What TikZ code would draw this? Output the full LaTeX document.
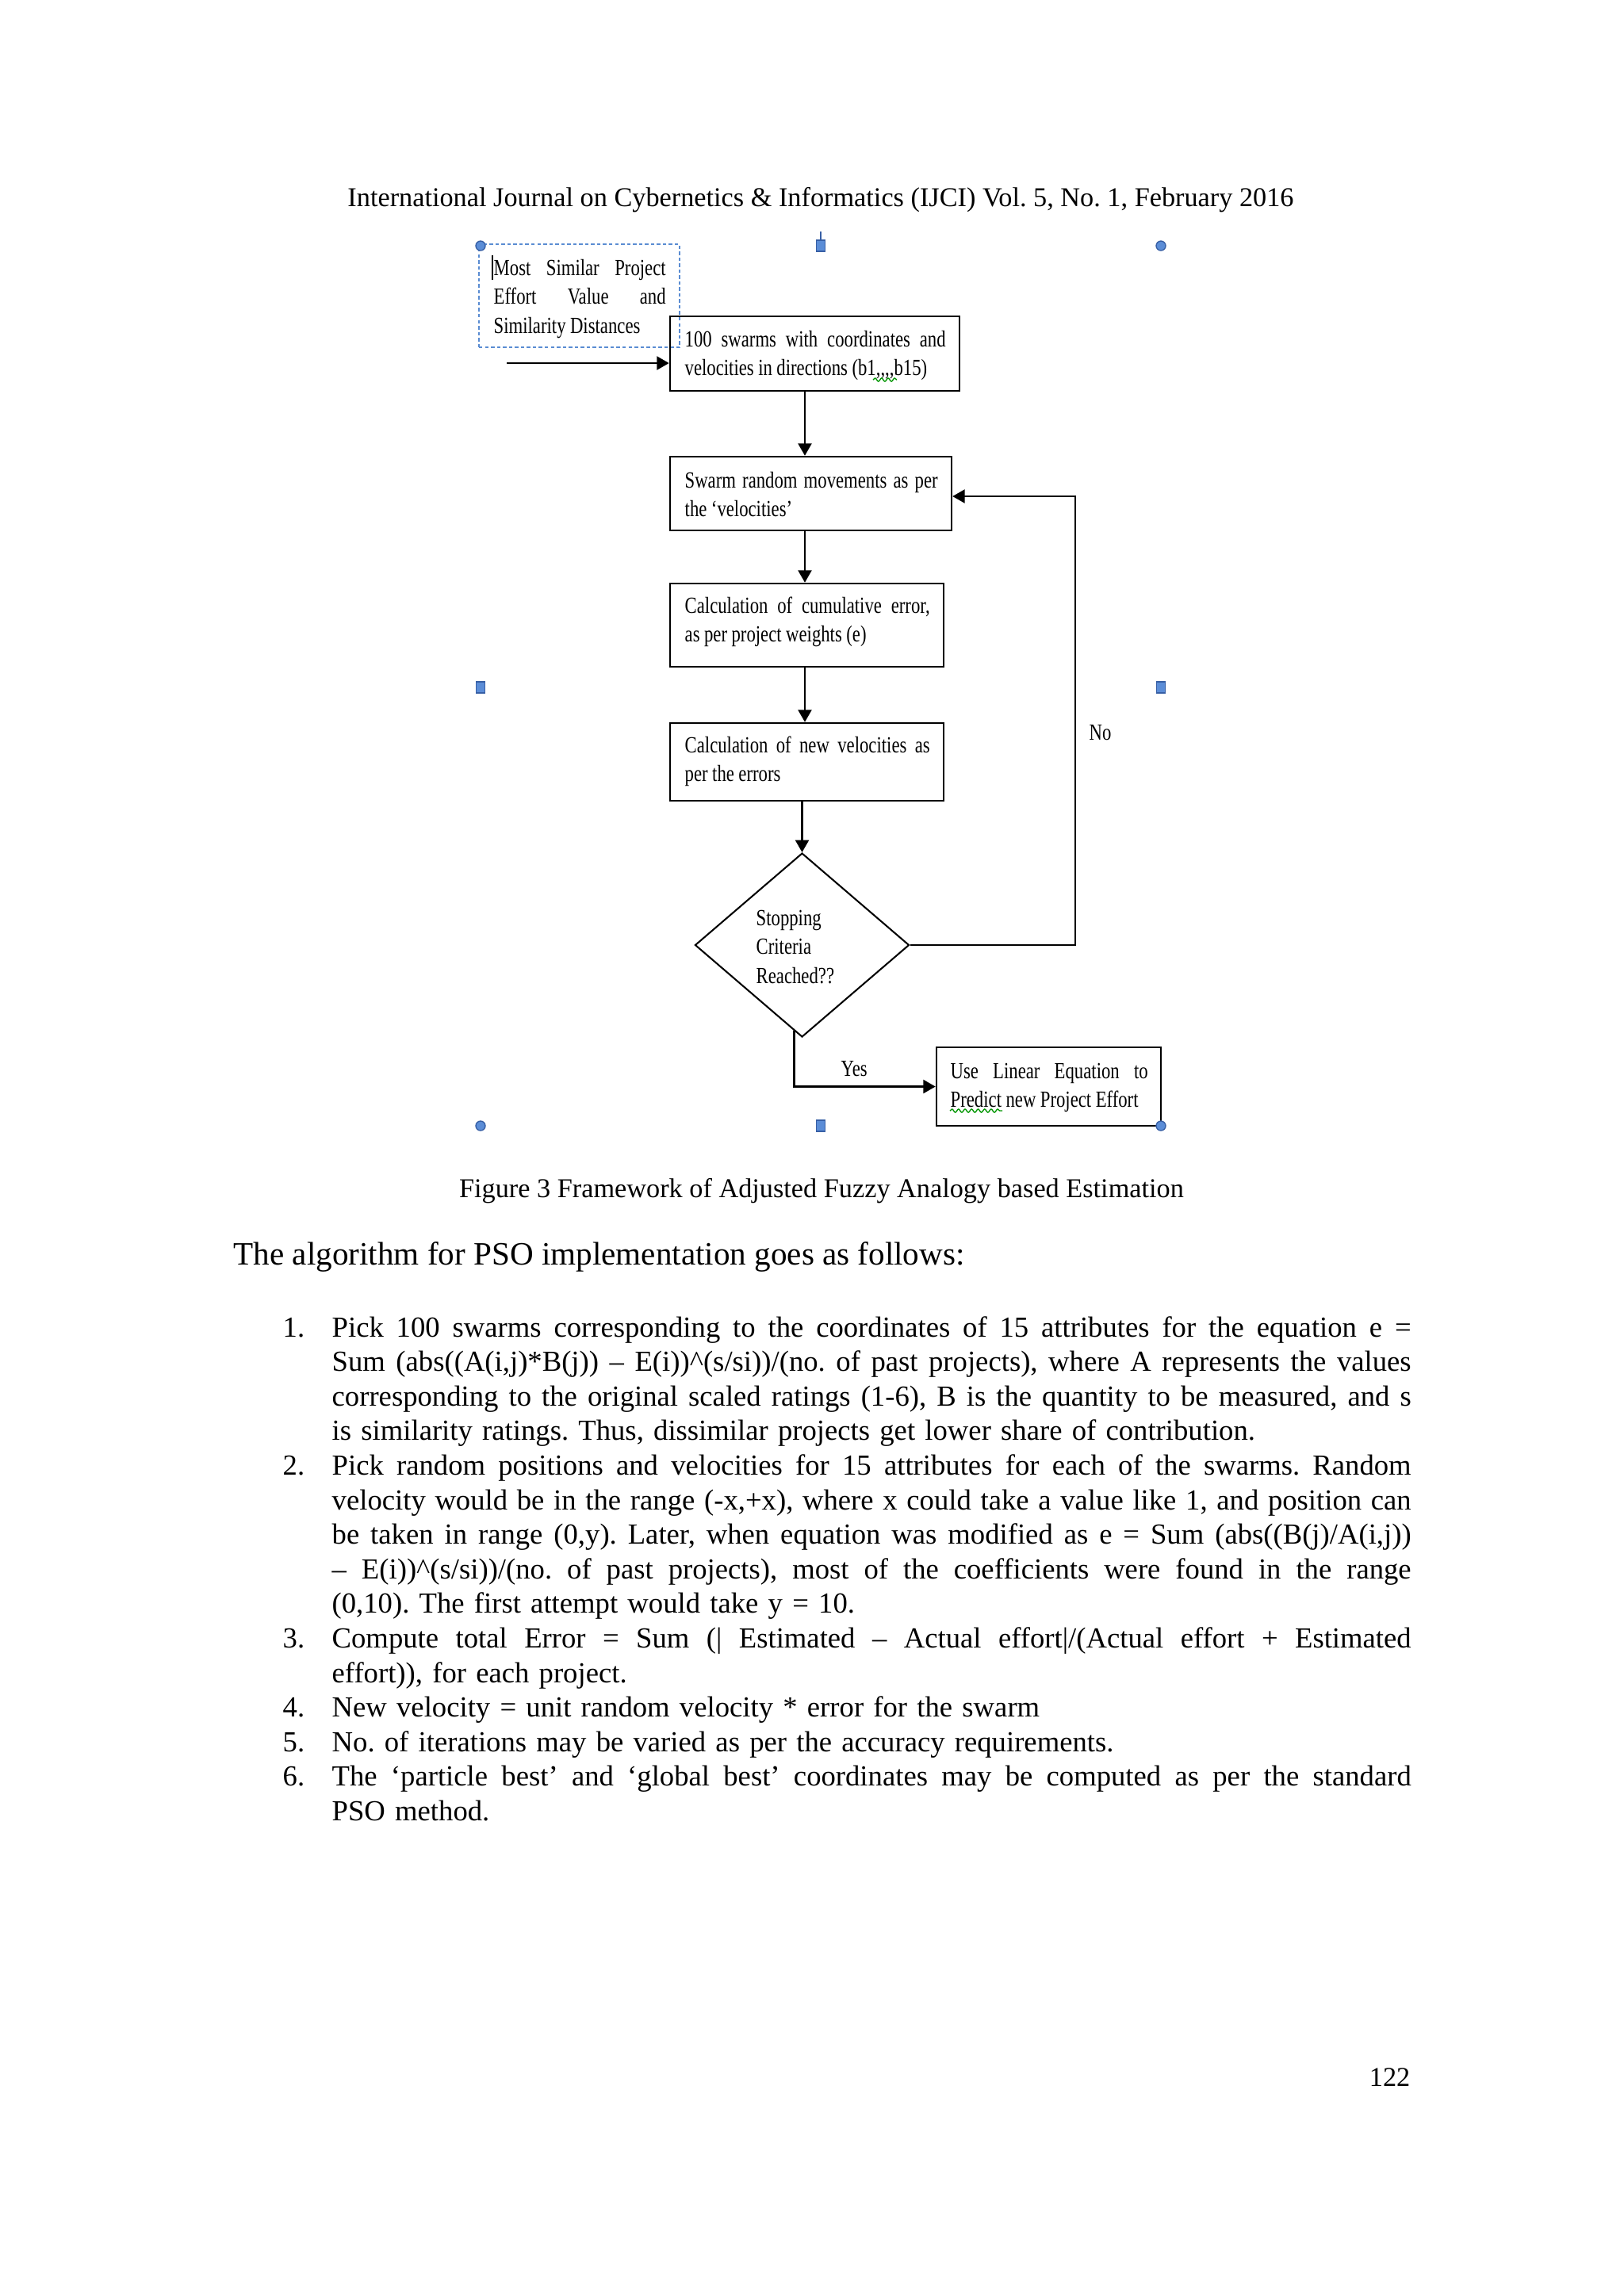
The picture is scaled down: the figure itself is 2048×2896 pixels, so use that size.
\documentclass[tikz,border=0pt]{standalone}
\usepackage{fontspec}
\setmainfont{Liberation Serif}
\newfontfamily\diafont[FakeStretch=0.78]{Liberation Serif}
\usetikzlibrary{shapes.geometric,arrows.meta,decorations.pathmorphing}
\newdimen\pxd \pxd=0.0102539cm
\newcommand{\jline}[2]{\leavevmode\hbox to #1\pxd{\spaceskip=\fontdimen2\font plus 1fil minus 0.35\fontdimen2\font\relax #2}}
\newcommand{\djline}[2]{\leavevmode\hbox to #1\pxd{\spaceskip=1.6pt plus 1fil minus 0.3pt\relax #2}}
\newcommand{\diasp}{\spaceskip=1.6pt plus 1pt minus 0.3pt\relax}
\definecolor{hfill}{RGB}{91,141,215}
\definecolor{hdraw}{RGB}{55,95,165}
\definecolor{dashblue}{RGB}{90,140,210}
\definecolor{wavegreen}{RGB}{0,150,0}
\frenchspacing
\begin{document}
\begin{tikzpicture}[x=0.0102539cm,y=-0.0102539cm,
  box/.style={draw, line width=0.75pt, rectangle, inner sep=0pt},
  dbox/.style={draw=dashblue, line width=0.5pt, dash pattern=on 1.3pt off 0.9pt, rectangle, inner sep=0pt},
  dia/.style={draw, line width=0.6pt, diamond, inner sep=0pt},
  txt/.style={anchor=base west, inner sep=0pt, font=\diafont\fontsize{8.5}{10.7}\selectfont, align=left},
  lbl/.style={anchor=base west, inner sep=0pt, font=\diafont\fontsize{8.5}{10.7}\selectfont},
  arr/.style={-{Triangle[length=4.5pt,width=5pt]}, line width=0.6pt},
  hcirc/.style={circle, fill=hfill, draw=hdraw, line width=0.4pt, minimum size=0.123cm, inner sep=0pt},
  hsq/.style={rectangle, fill=hfill, draw=hdraw, line width=0.4pt, minimum width=0.113cm, minimum height=0.144cm, inner sep=0pt},
  body/.style={anchor=base west, inner sep=0pt, font=\fontsize{10.7}{12.72}\selectfont, text width=14.4cm, align=left},
  num/.style={anchor=base west, inner sep=0pt, font=\fontsize{10.7}{12.72}\selectfont},
  wave/.style={draw=wavegreen, line width=0.4pt, decorate, decoration={snake, amplitude=0.6pt, segment length=2.4pt}}
]
\useasboundingbox[fill=white] (0,0) rectangle (2048,2896);

% header
\node[anchor=base, inner sep=0pt, font=\fontsize{10}{12}\selectfont] (hdr) at (1035,260)
  {International Journal on Cybernetics \& Informatics (IJCI) Vol. 5, No. 1, February 2016};

% boxes
\node[dbox, minimum width=2.594cm, minimum height=1.333cm] (src) at (730.5,373) {};
\node[box, minimum width=3.743cm, minimum height=0.964cm] (b1) at (1027.5,446) {};
\node[box, minimum width=3.640cm, minimum height=0.954cm] (b2) at (1022.5,622.5) {};
\node[box, minimum width=3.538cm, minimum height=1.077cm] (b3) at (1017.5,788.5) {};
\node[box, minimum width=3.538cm, minimum height=1.005cm] (b4) at (1017.5,961) {};
\node[dia, minimum width=2.769cm, minimum height=2.379cm] (d) at (1011.5,1192) {};
\node[box, minimum width=2.902cm, minimum height=1.015cm] (b5) at (1322.5,1370.5) {};

% texts
\node[txt, text width=2.7cm] (t0) at (622,347)
  {\diasp\djline{217}{Most Similar Project}\\\djline{217}{Effort Value and}\\Similarity Distances};
\node[txt, text width=3.9cm] (t1) at (863,437)
  {\diasp\djline{329}{100 swarms with coordinates and}\\velocities in directions (b1,,,,b15)};
\node[txt, text width=3.9cm] (t2) at (863,615)
  {\diasp\djline{319}{Swarm random movements as per}\\the ‘velocities’};
\node[txt, text width=3.9cm] (t3) at (863,773)
  {\diasp\djline{309}{Calculation of cumulative error,}\\as per project weights (e)};
\node[txt, text width=3.9cm] (t4) at (863,949)
  {\diasp\djline{309}{Calculation of new velocities as}\\per the errors};
\node[txt, text width=3.3cm] (t5) at (1198,1360)
  {\diasp\djline{249}{Use Linear Equation to}\\Predict new Project Effort};
\node[txt, text width=1.7cm] (td) at (953,1167) {Stopping\\Criteria\\Reached??};
\node[lbl] (no) at (1373,933) {No};
\node[lbl] (yes) at (1060,1357) {Yes};

% text cursor and proofing marks
\draw[line width=0.7pt] (621,322) -- (621,353);
\draw[wave] (1101,479) -- (1131,479);
\draw[wave] (1198,1401) -- (1264,1401);

% connectors
\coordinate (in) at (639,458);
\coordinate (col) at (1015,0);
\coordinate (loopx) at (1356,626);
\draw[arr] (in) -- (in -| b1.west);
\draw[arr] (b1.south -| col) -- (b2.north -| col);
\draw[arr] (b2.south -| col) -- (b3.north -| col);
\draw[arr] (b3.south -| col) -- (b4.north -| col);
\draw[arr] (b4.south -| d.north) -- (d.north);
\draw[arr] (d.east) -| (loopx) -- (b2.east |- loopx);
\draw[arr] (d.south) ++(-10,-9) |- (b5.west);

% selection handles
\draw[hdraw, line width=0.6pt] (1035,292) -- (1035,303);
\node[hcirc] (h1) at (606,310) {};
\node[hsq] (h2) at (1035,310) {};
\node[hcirc] (h3) at (1464,310) {};
\node[hsq] (h4) at (606,867) {};
\node[hsq] (h5) at (1464,867) {};
\node[hcirc] (h6) at (606,1420) {};
\node[hsq] (h7) at (1035,1420) {};
\node[hcirc] (h8) at (1464,1420) {};

% caption and body
\node[anchor=base, inner sep=0pt, font=\fontsize{10}{12}\selectfont] (cap) at (1036,1510)
  {Figure 3 Framework of Adjusted Fuzzy Analogy based Estimation};
\node[anchor=base west, inner sep=0pt, font=\fontsize{12}{14}\selectfont] (intro) at (294,1595)
  {The algorithm for PSO implementation goes as follows:};

\node[num] (n1) at (356,1686) {1.};
\node[body] (i1) at (418,1686)
  {\jline{1361}{Pick 100 swarms corresponding to the coordinates of 15 attributes for the equation e =}\\
   \jline{1361}{Sum (abs((A(i,j)*B(j)) – E(i))\textasciicircum(s/si))/(no. of past projects), where A represents the values}\\
   \jline{1361}{corresponding to the original scaled ratings (1-6), B is the quantity to be measured, and s}\\
   is similarity ratings. Thus, dissimilar projects get lower share of contribution.};
\node[num] (n2) at (356,1860.4) {2.};
\node[body] (i2) at (418,1860.4)
  {\jline{1361}{Pick random positions and velocities for 15 attributes for each of the swarms. Random}\\
   \jline{1361}{velocity would be in the range (-x,+x), where x could take a value like 1, and position can}\\
   \jline{1361}{be taken in range (0,y). Later, when equation was modified as e = Sum (abs((B(j)/A(i,j))}\\
   \jline{1361}{– E(i))\textasciicircum(s/si))/(no. of past projects), most of the coefficients were found in the range}\\
   (0,10). The first attempt would take y = 10.};
\node[num] (n3) at (356,2078.4) {3.};
\node[body] (i3) at (418,2078.4)
  {\jline{1361}{Compute total Error = Sum (| Estimated – Actual effort|/(Actual effort + Estimated}\\
   effort)), for each project.};
\node[num] (n4) at (356,2165.6) {4.};
\node[body] (i4) at (418,2165.6) {New velocity = unit random velocity * error for the swarm};
\node[num] (n5) at (356,2209.2) {5.};
\node[body] (i5) at (418,2209.2) {No. of iterations may be varied as per the accuracy requirements.};
\node[num] (n6) at (356,2252.8) {6.};
\node[body] (i6) at (418,2252.8)
  {\jline{1361}{The ‘particle best’ and ‘global best’ coordinates may be computed as per the standard}\\
   PSO method.};

\node[anchor=base east, inner sep=0pt, font=\fontsize{10}{12}\selectfont] (pg) at (1779,2631) {122};
\end{tikzpicture}
\end{document}
